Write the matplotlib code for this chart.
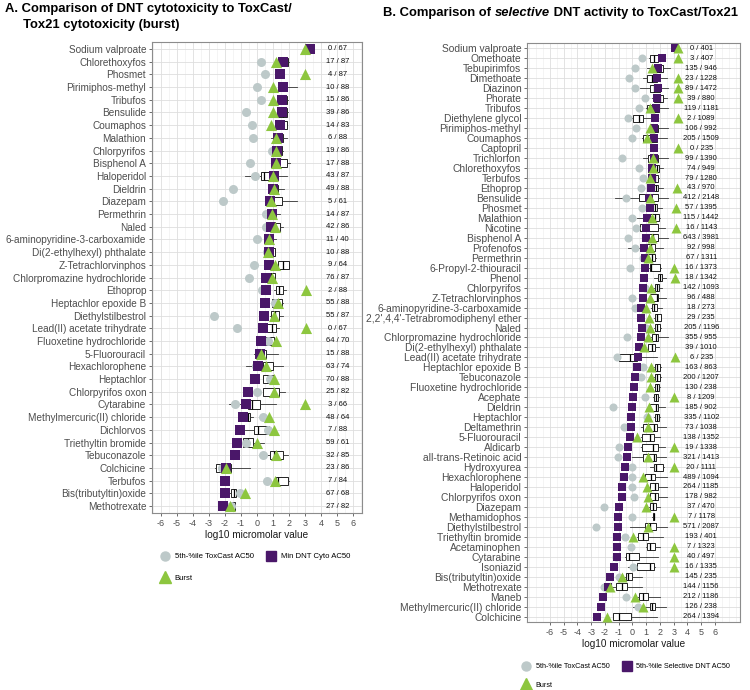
import numpy as np
import matplotlib
matplotlib.use('Agg')
import matplotlib.pyplot as plt
from matplotlib.lines import Line2D
from matplotlib.ticker import MultipleLocator

plt.rcParams['font.family'] = ['Liberation Sans', 'DejaVu Sans']

GRAY = '#BDC9C9'
PURPLE = '#4A1769'
GREEN = '#8DC63F'
TXT = '#4D4D4D'

# ---- panel A: DNT cytotoxicity vs ToxCast/Tox21 cytotoxicity ----
a_names = ['Sodium valproate', 'Chlorethoxyfos', 'Phosmet', 'Pirimiphos-methyl', 'Tribufos',
           'Bensulide', 'Coumaphos', 'Malathion', 'Chlorpyrifos', 'Bisphenol A', 'Haloperidol',
           'Dieldrin', 'Diazepam', 'Permethrin', 'Naled', '6-aminopyridine-3-carboxamide',
           'Di(2-ethylhexyl) phthalate', 'Z-Tetrachlorvinphos', 'Chlorpromazine hydrochloride',
           'Ethoprop', 'Heptachlor epoxide B', 'Diethylstilbestrol', 'Lead(II) acetate trihydrate',
           'Fluoxetine hydrochloride', '5-Fluorouracil', 'Hexachlorophene', 'Heptachlor',
           'Chlorpyrifos oxon', 'Cytarabine', 'Methylmercuric(II) chloride', 'Dichlorvos',
           'Triethyltin bromide', 'Tebuconazole', 'Colchicine', 'Terbufos',
           'Bis(tributyltin)oxide', 'Methotrexate']
a_toxcast = [3.2, 0.27, 0.52, 0.0, 0.27, -0.67, -0.31, -0.25, 0.96, -0.46, -0.15, -1.5, -2.14,
             0.59, 0.59, 0.0, 0.6, -0.2, -0.52, 0.31, 1.1, -2.66, -1.26, 0.7, 0.2, -0.05, 0.8,
             0.02, -1.36, 0.38, 0.7, -0.67, 0.38, -2.18, 0.63, -1.05, -1.6]
a_dnt = [3.3, 1.63, 1.42, 1.6, 1.53, 1.53, 1.42, 1.3, 1.25, 1.17, 1.07, 1.0, 0.8, 0.94, 0.9,
         0.75, 0.75, 0.75, 0.59, 0.54, 0.52, 0.42, 0.38, 0.27, 0.17, 0.06, -0.15, -0.57, -0.71,
         -0.88, -1.03, -1.24, -1.4, -1.93, -1.99, -1.99, -2.14]
a_burst = [3.0, 1.2, 3.0, 1.0, 1.0, 1.0, 0.86, 1.17, 1.2, 1.17, 1.0, 1.07, 0.9, 0.94, 1.1, 0.75,
           0.7, 1.15, 0.96, 3.03, 1.28, 1.05, 3.03, 1.17, 0.27, 0.59, 1.07, 1.05, 3.0, 0.75, 1.05,
           0.0, 1.2, -1.93, 1.1, -0.77, -1.68]
a_wlo = [3.2, 1.45, 1.35, 1.3, 1.3, 1.25, 1.2, 0.84, 0.9, 0.85, -0.77, 0.7, 0.55, 0.65, 0.8, 0.55,
         0.4, 1.3, 0.55, 1.05, 0.9, 0.8, 0.6, 0.45, -0.21, -0.67, 0.35, 0.35, -1.72, -0.98, -0.77,
         -0.95, 0.59, -2.6, 1.1, -1.76, -1.75]
a_q1 = [3.25, 1.49, 1.38, 1.38, 1.38, 1.32, 1.21, 1.0, 0.96, 0.9, 0.27, 0.75, 0.59, 0.69, 0.84,
        0.59, 0.48, 1.32, 0.59, 1.17, 0.96, 0.84, 0.65, 0.52, 0.06, 0.38, 0.38, 0.38, -0.57,
        -0.77, -0.21, -0.88, 0.8, -2.55, 1.17, -1.61, -1.68]
a_med = [3.3, 1.74, 1.42, 1.6, 1.55, 1.6, 1.63, 1.3, 1.25, 1.2, 0.44, 1.05, 0.86, 0.95, 1.15, 0.8,
         0.75, 1.63, 0.85, 1.38, 1.2, 1.1, 0.96, 0.8, 0.3, 0.59, 0.69, 1.05, -0.31, -0.57, 0.06,
         -0.57, 1.05, -2.24, 1.32, -1.45, -1.55]
a_q3 = [3.35, 1.95, 1.46, 1.88, 1.84, 1.88, 1.84, 1.59, 1.53, 1.84, 0.96, 1.32, 1.53, 1.21, 1.42,
        1.0, 1.1, 1.99, 1.1, 1.59, 1.53, 1.38, 1.21, 1.07, 0.59, 1.0, 1.0, 1.38, 0.17, -0.42, 0.75,
        -0.25, 1.59, -1.61, 1.95, -1.3, -1.4]
a_whi = [3.4, 1.97, 1.5, 2.47, 1.9, 1.9, 1.88, 1.88, 1.6, 2.05, 1.88, 1.68, 2.47, 1.42, 1.63,
         1.21, 1.15, 2.0, 1.15, 1.8, 1.63, 1.59, 1.38, 1.1, 1.32, 1.59, 1.17, 1.74, 1.17, -0.25,
         0.8, 0.44, 1.95, -0.42, 2.0, -1.19, -1.35]
a_counts = ['0 / 67', '17 / 87', '4 / 87', '10 / 88', '15 / 86', '39 / 86', '14 / 83', '6 / 88',
            '19 / 86', '17 / 88', '43 / 87', '49 / 88', '5 / 61', '14 / 87', '42 / 86', '11 / 40',
            '10 / 88', '9 / 64', '76 / 87', '2 / 88', '55 / 88', '55 / 87', '0 / 67', '64 / 70',
            '15 / 88', '63 / 74', '70 / 88', '25 / 82', '3 / 66', '48 / 64', '7 / 88', '59 / 61',
            '32 / 85', '23 / 86', '7 / 84', '67 / 68', '27 / 82']

# ---- panel B: selective DNT activity vs ToxCast/Tox21 ----
b_names = ['Sodium valproate', 'Omethoate', 'Tebupirimfos', 'Dimethoate', 'Diazinon', 'Phorate',
           'Tribufos', 'Diethylene glycol', 'Pirimiphos-methyl', 'Coumaphos', 'Captopril',
           'Trichlorfon', 'Chlorethoxyfos', 'Terbufos', 'Ethoprop', 'Bensulide', 'Phosmet',
           'Malathion', 'Nicotine', 'Bisphenol A', 'Profenofos', 'Permethrin',
           '6-Propyl-2-thiouracil', 'Phenol', 'Chlorpyrifos', 'Z-Tetrachlorvinphos',
           '6-aminopyridine-3-carboxamide', "2,2',4,4'-Tetrabromodiphenyl ether", 'Naled',
           'Chlorpromazine hydrochloride', 'Di(2-ethylhexyl) phthalate',
           'Lead(II) acetate trihydrate', 'Heptachlor epoxide B', 'Tebuconazole',
           'Fluoxetine hydrochloride', 'Acephate', 'Dieldrin', 'Heptachlor', 'Deltamethrin',
           '5-Fluorouracil', 'Aldicarb', 'all-trans-Retinoic acid', 'Hydroxyurea',
           'Hexachlorophene', 'Haloperidol', 'Chlorpyrifos oxon', 'Diazepam', 'Methamidophos',
           'Diethylstilbestrol', 'Triethyltin bromide', 'Acetaminophen', 'Cytarabine',
           'Isoniazid', 'Bis(tributyltin)oxide', 'Methotrexate', 'Maneb',
           'Methylmercuric(II) chloride', 'Colchicine']
b_toxcast = [3.1, 0.68, 0.19, -0.24, 0.19, 0.92, 0.51, -0.29, 0.24, -0.05, np.nan, -0.78, 0.44,
             0.8, 0.63, -0.46, 0.68, 0.0, 0.27, -0.29, 0.19, 0.73, -0.17, np.nan, 0.9, 0.0, 0.19,
             np.nan, 1.0, -0.41, np.nan, -1.14, 0.8, 0.63, np.nan, 0.92, -1.38, 1.04, -0.58,
             np.nan, -0.97, -1.02, 0.0, 0.0, 0.0, 0.12, -2.04, 0.0, -2.64, -0.53, -0.1, -1.2,
             0.02, -0.95, -2.04, -0.46, 0.4, np.nan]
b_dnt = [3.1, 2.13, 1.89, 1.77, 1.84, 1.77, 1.72, 1.65, 1.58, 1.58, 1.53, 1.53, 1.41, 1.41, 1.33,
         1.2, 1.28, 1.04, 1.0, 0.97, 0.87, 0.92, 0.92, 0.87, 0.8, 0.73, 0.63, 0.63, 0.68, 0.61,
         0.44, 0.39, 0.32, 0.19, 0.12, 0.07, -0.05, -0.1, -0.12, -0.17, -0.29, -0.41, -0.53,
         -0.65, -0.73, -0.78, -0.97, -1.02, -1.07, -1.09, -1.14, -1.14, -1.33, -1.62, -1.75,
         -2.11, -2.28, -2.55]
b_burst = [3.3, 3.3, 1.4, 3.3, 3.3, 3.3, 1.28, 3.3, 1.28, 1.04, 3.3, 1.48, 1.48, 1.28, 3.22,
           1.28, 3.18, 1.45, 3.18, 1.4, 1.28, 1.11, 3.05, 3.1, 1.36, 1.28, 0.97, 1.21, 1.24, 1.16,
           0.85, 3.1, 1.36, 1.36, 1.24, 3.05, 1.21, 1.16, 1.16, 0.32, 3.05, 1.12, 3.05, 0.73,
           1.09, 1.12, 0.97, 3.05, 1.12, 0.02, 3.05, 3.05, 3.05, -0.78, -1.67, 0.19, 0.8, -1.87]
b_wlo = [2.95, 1.2, 1.04, 0.8, 0.56, 1.45, 0.95, -0.53, 1.2, 0.7, np.nan, 0.8, 1.1, 1.35, 1.4,
         -1.26, 1.35, 0.32, 0.19, 1.0, -0.29, 0.95, 1.2, 1.53, 1.6, 1.2, 1.35, 1.6, 1.55, 1.35,
         1.1, -1.0, 1.6, 1.55, 1.6, 1.5, 1.2, 1.6, 0.65, 0.6, 0.6, -0.05, 1.28, 0.85, 1.2, 1.2,
         1.2, 1.45, -0.17, 0.3, 0.95, -0.55, -0.29, -0.55, -1.6, 0.35, 0.07, -1.45]
b_q1 = [3.0, 1.24, 1.65, 1.04, 1.24, 1.53, 1.04, 0.07, 1.28, 0.8, np.nan, 1.16, 1.16, 1.41, 1.48,
        0.51, 1.41, 1.28, 0.56, 1.16, 1.04, 1.04, 1.24, 1.84, 1.65, 1.28, 1.41, 1.65, 1.65, 1.41,
        1.16, -0.95, 1.65, 1.65, 1.65, 1.53, 1.28, 1.65, 0.73, 0.68, 0.68, 0.8, 1.53, 0.92,
        1.28, 1.28, 1.28, 1.48, 0.92, 0.39, 1.04, -0.46, 0.36, -0.46, -1.21, 0.44, 1.24, -1.38]
b_med = [3.1, 1.6, 1.9, 1.41, 1.6, 2.0, 1.6, 0.44, 1.6, 1.16, np.nan, 1.55, 1.77, 1.65, 1.7,
         1.24, 1.65, 1.65, 1.04, 1.5, 1.35, 1.41, 1.33, 2.01, 1.8, 1.75, 1.6, 1.75, 1.75, 1.7,
         1.41, -0.17, 1.8, 1.8, 1.75, 1.7, 1.7, 1.8, 1.53, 1.24, 1.48, 1.53, 1.72, 1.35, 1.65,
         1.65, 1.5, 1.53, 1.3, 0.8, 1.24, -0.22, 1.24, -0.29, -0.78, 0.8, 1.41, -0.95]
b_q3 = [3.2, 1.89, 2.25, 1.77, 2.01, 2.2, 1.96, 0.8, 1.89, 1.77, np.nan, 1.89, 1.96, 1.89, 1.89,
        1.89, 1.82, 1.96, 1.89, 1.89, 1.65, 1.65, 2.01, 2.13, 1.96, 1.89, 1.77, 2.08, 2.01, 1.89,
        1.65, 0.32, 2.01, 2.01, 1.96, 1.84, 1.89, 1.96, 1.77, 1.58, 1.84, 1.7, 2.25, 1.65, 1.84,
        1.89, 1.72, 1.58, 1.72, 1.12, 1.65, 0.51, 1.58, 0.0, -0.41, 1.12, 1.65, -0.12]
b_whi = [3.25, 1.95, 2.74, 2.5, 2.62, 2.5, 2.62, 1.28, 2.62, 2.5, np.nan, 2.62, 2.25, 1.95, 2.25,
         2.62, 2.13, 2.0, 2.38, 2.62, 2.25, 1.7, 2.05, 2.45, 2.13, 2.45, 2.13, 2.1, 2.05, 2.55,
         1.96, 1.77, 2.05, 2.1, 2.0, 1.9, 2.38, 2.0, 2.45, 2.01, 2.38, 2.45, 2.3, 2.5, 2.5, 2.5,
         2.01, 1.6, 2.5, 2.2, 2.01, 1.84, 1.62, 0.68, 0.68, 2.01, 2.45, 1.82]
b_counts = ['0 / 401', '3 / 407', '135 / 946', '23 / 1228', '89 / 1472', '39 / 880', '119 / 1181',
            '2 / 1089', '106 / 992', '205 / 1509', '0 / 235', '99 / 1390', '74 / 949',
            '79 / 1280', '43 / 970', '412 / 2148', '57 / 1395', '115 / 1442', '16 / 1143',
            '643 / 3981', '92 / 998', '67 / 1311', '16 / 1373', '18 / 1342', '142 / 1093',
            '96 / 488', '18 / 273', '29 / 235', '205 / 1196', '355 / 955', '39 / 1010', '6 / 235',
            '163 / 863', '200 / 1207', '130 / 238', '8 / 1209', '185 / 902', '335 / 1102',
            '73 / 1038', '138 / 1352', '19 / 1338', '321 / 1413', '20 / 1111', '489 / 1094',
            '264 / 1185', '178 / 982', '37 / 470', '7 / 1178', '571 / 2087', '193 / 401',
            '7 / 1323', '40 / 497', '16 / 1335', '145 / 235', '144 / 1156', '212 / 1186',
            '126 / 238', '264 / 1394']


def draw_panel(ax, names, toxcast, dnt, burst, wlo, q1, med, q3, whi, counts,
               xlim, msize, box_h, label_size):
    n = len(names)
    ypos = np.arange(1, n + 1)
    stats = []
    pos = []
    for i in range(n):
        if np.isnan(med[i]):
            continue
        stats.append(dict(whislo=wlo[i], q1=q1[i], med=med[i], q3=q3[i], whishi=whi[i], fliers=[]))
        pos.append(ypos[i])
    ax.bxp(stats, positions=pos, vert=False, widths=box_h, showcaps=False, showfliers=False,
           patch_artist=True,
           boxprops=dict(facecolor='white', edgecolor='black', linewidth=0.6),
           medianprops=dict(color='black', linewidth=0.9),
           whiskerprops=dict(color='#333333', linewidth=0.6), zorder=2)
    ms_c, ms_s, ms_t = msize
    ax.scatter(toxcast, ypos, s=ms_c ** 2, marker='o', color=GRAY, linewidths=0, zorder=3)
    ax.scatter(dnt, ypos, s=ms_s ** 2, marker='s', color=PURPLE, linewidths=0, zorder=4)
    ax.scatter(burst, ypos, s=ms_t ** 2, marker='^', color=GREEN, linewidths=0, zorder=5)
    for i in range(n):
        ax.text(5, ypos[i], counts[i], ha='center', va='center', fontsize=5.5,
                color='#111111', zorder=6)

    ax.set_xlim(*xlim)
    ax.set_ylim(n + 0.55, 0.45)
    ax.set_yticks(ypos)
    ax.set_yticklabels(names, fontsize=label_size, color=TXT)
    ax.set_xticks(np.arange(-6, 7))
    ax.set_xticklabels([str(v) for v in range(-6, 7)], fontsize=6.5, color=TXT)
    ax.xaxis.set_minor_locator(MultipleLocator(0.5))
    ax.tick_params(axis='both', which='major', length=2.5, width=0.6, color='#555555', pad=1.5)
    ax.tick_params(axis='x', which='minor', length=0)
    ax.grid(True, which='major', color='#DEDEDE', linewidth=0.6, zorder=0)
    ax.grid(True, which='minor', axis='x', color='#EEEEEE', linewidth=0.45, zorder=0)
    ax.set_axisbelow(True)
    for sp in ax.spines.values():
        sp.set_color('#8C8C8C')
        sp.set_linewidth(0.8)
    ax.set_xlabel('log10 micromolar value', fontsize=7.2, color='#1a1a1a', labelpad=2)


W, H = 750, 690
fig = plt.figure(figsize=(7.5, 6.9), dpi=100)


def frac(x0, y0, x1, y1):
    return [x0 / W, 1 - y1 / H, (x1 - x0) / W, (y1 - y0) / H]


axA = fig.add_axes(frac(151.7, 42, 361.7, 513))
draw_panel(axA, a_names, a_toxcast, a_dnt, a_burst, a_wlo, a_q1, a_med, a_q3, a_whi, a_counts,
           (-6.56, 6.52), (6.5, 6.5, 8.0), 0.65, 7.2)

axB = fig.add_axes(frac(527, 43, 740, 622))
draw_panel(axB, b_names, b_toxcast, b_dnt, b_burst, b_wlo, b_q1, b_med, b_q3, b_whi, b_counts,
           (-7.67, 7.82), (5.8, 5.3, 7.2), 0.7, 7.4)

# titles
fig.text(5 / W, 1 - 3 / H, 'A. Comparison of DNT cytotoxicity to ToxCast/\n     Tox21 cytotoxicity (burst)',
         ha='left', va='top', fontsize=9.4, fontweight='bold', linespacing=1.45)
renderer = fig.canvas.get_renderer()
t1 = fig.text(383 / W, 1 - 13 / H, 'B. Comparison of ', ha='left', va='center',
              fontsize=9.4, fontweight='bold')
bb = t1.get_window_extent(renderer)
t2 = fig.text(bb.x1 / W, 1 - 13 / H, 'selective', ha='left', va='center', fontsize=9.4,
              fontweight='bold', fontstyle='italic')
bb2 = t2.get_window_extent(renderer)
fig.text(bb2.x1 / W, 1 - 13 / H, ' DNT activity to ToxCast/Tox21', ha='left', va='center',
         fontsize=9.4, fontweight='bold')


def legend_handles(ms, labels):
    return [Line2D([], [], ls='', marker='o', color=GRAY, markersize=ms[0], label=labels[0]),
            Line2D([], [], ls='', marker='^', color=GREEN, markersize=ms[2], label=labels[2]),
            Line2D([], [], ls='', marker='s', color=PURPLE, markersize=ms[1], label=labels[1])]


fig.legend(handles=legend_handles((6.5, 6.5, 8.0),
                                  ['5th-%ile ToxCast AC50', 'Min DNT Cyto AC50', 'Burst']),
           loc='upper left', bbox_to_anchor=(160 / W, 1 - 553 / H), ncol=2, frameon=False,
           fontsize=5.6, handlelength=1.2, handletextpad=0.7, columnspacing=1.6,
           labelspacing=1.75, borderaxespad=0, borderpad=0)
fig.legend(handles=legend_handles((6.5, 6.5, 8.0),
                                  ['5th-%ile ToxCast AC50', '5th-%ile Selective DNT AC50', 'Burst']),
           loc='upper left', bbox_to_anchor=(522 / W, 1 - 663 / H), ncol=2, frameon=False,
           fontsize=5.2, handlelength=1.2, handletextpad=0.7, columnspacing=1.8,
           labelspacing=1.6, borderaxespad=0, borderpad=0)

fig.savefig('out.png', dpi=100)
